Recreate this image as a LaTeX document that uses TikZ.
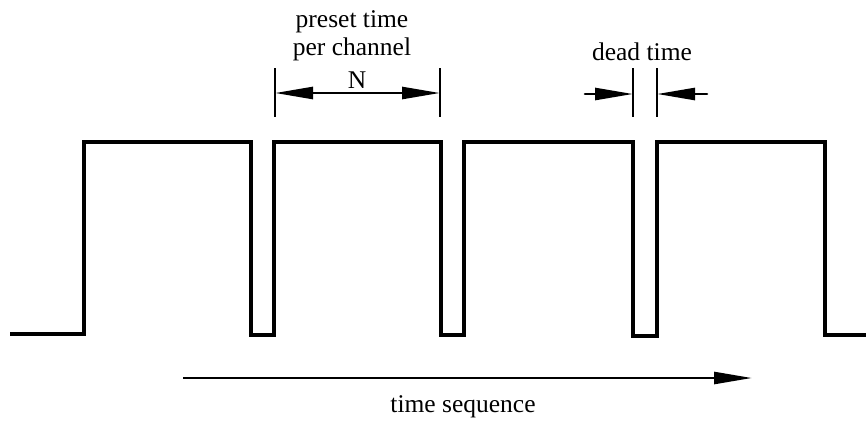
\documentclass[tikz,border=0pt]{standalone}
\usepackage{fontspec}
\setmainfont{Liberation Serif}
\usetikzlibrary{arrows.meta}
\begin{document}
\begin{tikzpicture}[x=1pt,y=-1pt,
  wave/.style={line width=3.2pt,line join=miter},
  bar/.style={line width=2.6pt},
  dim/.style={line width=2.6pt,-{Triangle[length=38pt,width=12pt]}},
  lbl/.style={font=\fontsize{25.5}{30}\selectfont,anchor=base,inner sep=0pt}]
\useasboundingbox (0,0) rectangle (866,421);
% waveform
\draw[wave] (10,334) -- (84,334) -- (84,142) -- (251,142) -- (251,335) -- (274,335)
  -- (274,142) -- (441,142) -- (441,335) -- (464,335) -- (464,142) -- (633,142)
  -- (633,336) -- (657,336) -- (657,142) -- (825,142) -- (825,335) -- (866,335);
% preset time dimension
\coordinate (p1t) at (275,68); \coordinate (p1b) at (275,117);
\coordinate (p2t) at (440,68); \coordinate (p2b) at (440,117);
\coordinate (pm) at (357.5,93);
\coordinate (pl) at (275,93); \coordinate (pr) at (440,93);
\draw[bar] (p1t) -- (p1b);
\draw[bar] (p2t) -- (p2b);
\draw[dim] (pm) -- (pl);
\draw[dim] (pm) -- (pr);
\node[lbl] (pt) at (352,27) {preset time};
\node[lbl] (pc) at (352,55) {per channel};
\node[lbl] (n) at (357,88) {N};
% dead time
\coordinate (d1t) at (633,68); \coordinate (d1b) at (633,117);
\coordinate (d2t) at (657,68); \coordinate (d2b) at (657,117);
\coordinate (dls) at (585,94); \coordinate (dl) at (633,94);
\coordinate (drs) at (707,94); \coordinate (dr) at (657,94);
\draw[bar] (d1t) -- (d1b);
\draw[bar] (d2t) -- (d2b);
\draw[dim,line cap=round] (dls) -- (dl);
\draw[dim,line cap=round] (drs) -- (dr);
\node[lbl] (dt) at (642,60) {dead time};
% time sequence arrow
\coordinate (ts) at (183,378); \coordinate (te) at (752,378);
\draw[dim] (ts) -- (te);
\node[lbl] (tsl) at (463,412) {time sequence};
\end{tikzpicture}
\end{document}
